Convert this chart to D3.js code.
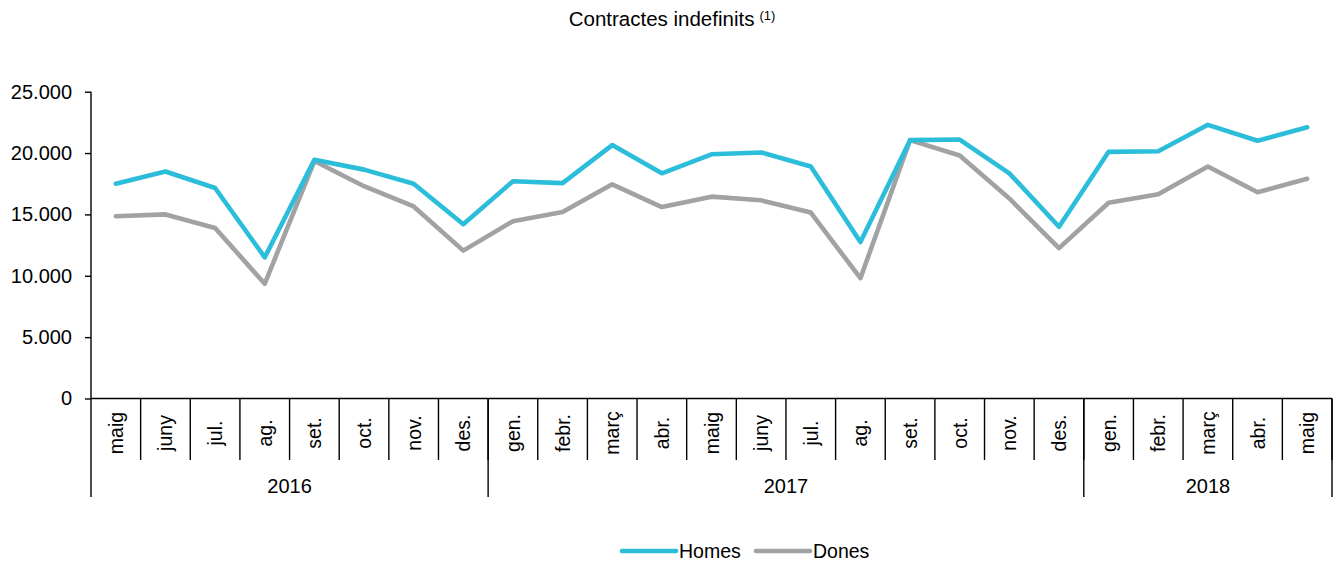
<!DOCTYPE html>
<html>
<head>
<meta charset="utf-8">
<script src="https://cdn.jsdelivr.net/npm/d3@7"></script>
<style>
  body { margin: 0; background: #fff; }
  svg { display: block; font-family: Arial, "Liberation Sans", sans-serif; }
</style>
</head>
<body>
<div id="chart"></div>
<script>
// Dades
const months = ["maig", "juny", "jul.", "ag.", "set.", "oct.", "nov.", "des.",
  "gen.", "febr.", "març", "abr.", "maig", "juny", "jul.", "ag.", "set.", "oct.", "nov.", "des.",
  "gen.", "febr.", "març", "abr.", "maig"];
const yearLabels = ["2016", "2017", "2018"];
const yearSpans = [8, 12, 5];
const homes = [17500, 18500, 17150, 11500, 19450, 18650, 17500, 14200,
  17700, 17550, 20650, 18350, 19900, 20050, 18900, 12750, 21050, 21100, 18350, 14000,
  20100, 20150, 22300, 21000, 22100];
const dones = [14850, 15000, 13900, 9350, 19350, 17300, 15650, 12050,
  14450, 15200, 17450, 15600, 16450, 16150, 15150, 9800, 21050, 19800, 16300, 12250,
  15950, 16650, 18900, 16800, 17900];
const yTicks = [0, 5000, 10000, 15000, 20000, 25000];

const WIDTH = 1336;
const HEIGHT = 564;
const plotLeft = 91, plotRight = 1332, plotTop = 91.7, plotBottom = 398.5;

const svg = d3.select("#chart")
  .append("svg")
  .attr("width", WIDTH)
  .attr("height", HEIGHT);

// Escales
const x = d3.scaleBand()
  .domain(d3.range(months.length))
  .range([plotLeft, plotRight]);

const y = d3.scaleLinear()
  .domain([0, 25000])
  .range([plotBottom, plotTop]);

const locale = d3.formatLocale({ decimal: ",", thousands: ".", grouping: [3], currency: ["", " €"] });
const fmt = locale.format(",d");

// Títol
const title = svg.append("text")
  .attr("x", 672)
  .attr("y", 26)
  .attr("text-anchor", "middle")
  .style("font-size", "20.5px")
  .text("Contractes indefinits");
title.append("tspan")
  .attr("dx", 5)
  .attr("dy", -6)
  .style("font-size", "13px")
  .text("(1)");

// Eix Y
const yAxis = svg.append("g")
  .attr("transform", `translate(${plotLeft},0)`)
  .call(d3.axisLeft(y).tickValues(yTicks).tickFormat(fmt).tickSize(6).tickPadding(13));
yAxis.select(".domain").remove();
yAxis.selectAll("line").attr("stroke", "#000").attr("stroke-width", 1.4);
yAxis.selectAll("text")
  .attr("fill", "#000")
  .style("font-size", "20px")
  .style("font-family", "Arial, 'Liberation Sans', sans-serif");

svg.append("line")
  .attr("x1", plotLeft).attr("x2", plotLeft)
  .attr("y1", plotTop).attr("y2", 497)
  .attr("stroke", "#000").attr("stroke-width", 1.4);

// Eix X
svg.append("line")
  .attr("x1", plotLeft).attr("x2", plotRight)
  .attr("y1", plotBottom).attr("y2", plotBottom)
  .attr("stroke", "#000").attr("stroke-width", 1.6);

const edgeX = i => i < months.length ? x(i) : plotRight;

// Separadors de mesos
svg.append("g")
  .selectAll("line")
  .data(d3.range(1, months.length + 1))
  .join("line")
  .attr("x1", edgeX)
  .attr("x2", edgeX)
  .attr("y1", plotBottom)
  .attr("y2", 460)
  .attr("stroke", "#000")
  .attr("stroke-width", 1.4);

svg.append("g")
  .selectAll("text")
  .data(months)
  .join("text")
  .attr("transform", (d, i) => `translate(${x(i) + x.bandwidth() / 2 + 7},433) rotate(-90)`)
  .attr("text-anchor", "middle")
  .style("font-size", "19.5px")
  .text(d => d);

// Anys
const yearStarts = yearSpans.map((s, i) => d3.sum(yearSpans.slice(0, i)));

svg.append("g")
  .selectAll("line")
  .data(yearStarts.slice(1).concat([months.length]))
  .join("line")
  .attr("x1", edgeX)
  .attr("x2", edgeX)
  .attr("y1", plotBottom)
  .attr("y2", 497)
  .attr("stroke", "#000")
  .attr("stroke-width", 1.4);

svg.append("g")
  .selectAll("text")
  .data(yearLabels)
  .join("text")
  .attr("x", (d, i) => (edgeX(yearStarts[i]) + edgeX(yearStarts[i] + yearSpans[i])) / 2)
  .attr("y", 493)
  .attr("text-anchor", "middle")
  .style("font-size", "20px")
  .text(d => d);

// Línies
const series = [
  { name: "Homes", values: homes, color: "#2bbdd9" },
  { name: "Dones", values: dones, color: "#a0a2a3" }
];

const line = d3.line()
  .x((d, i) => x(i) + x.bandwidth() / 2)
  .y(d => y(d));

svg.append("g")
  .selectAll("path")
  .data(series.slice().reverse())
  .join("path")
  .attr("d", d => line(d.values))
  .attr("fill", "none")
  .attr("stroke", d => d.color)
  .attr("stroke-width", 4.6)
  .attr("stroke-linejoin", "round")
  .attr("stroke-linecap", "round");

// Llegenda
const legendX = [622, 756];
const legend = svg.append("g")
  .selectAll("g")
  .data(series)
  .join("g")
  .attr("transform", (d, i) => `translate(${legendX[i]},551)`);

legend.append("line")
  .attr("x1", 0).attr("x2", 54)
  .attr("stroke", d => d.color)
  .attr("stroke-width", 4.6)
  .attr("stroke-linecap", "round");

legend.append("text")
  .attr("x", 57)
  .attr("y", 7)
  .style("font-size", "19.5px")
  .text(d => d.name);
</script>
</body>
</html>
